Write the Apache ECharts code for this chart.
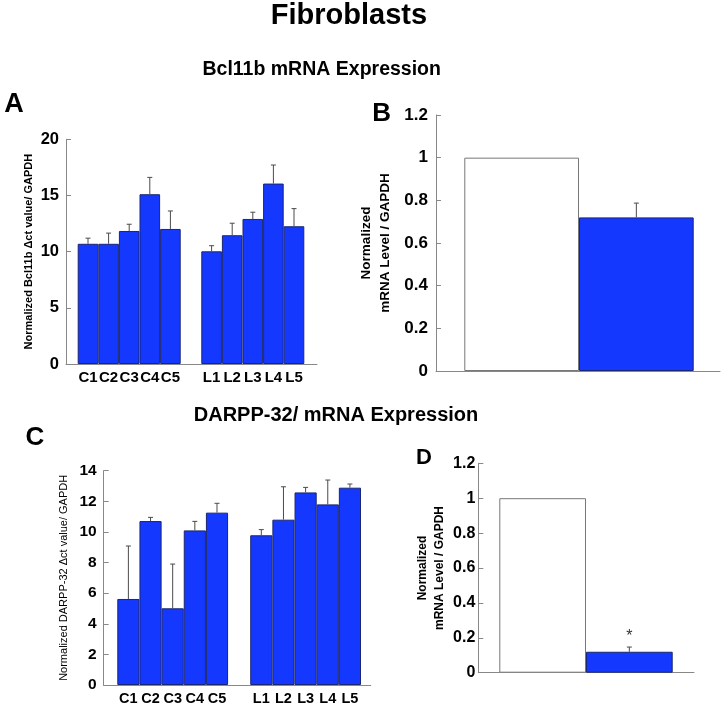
<!DOCTYPE html>
<html>
<head>
<meta charset="utf-8">
<script src="https://cdn.jsdelivr.net/npm/echarts@6/dist/echarts.min.js"></script>
<style>
html,body{margin:0;padding:0;background:#fff;}
#chart{width:727px;height:707px;}
</style>
</head>
<body>
<div id="chart"></div>
<script>
// ---------- data ----------
const groupCLabels = ['C1', 'C2', 'C3', 'C4', 'C5'];
const groupLLabels = ['L1', 'L2', 'L3', 'L4', 'L5'];

const bclControl    = [10.7, 10.7, 11.84, 15.11, 12.02];
const bclControlErr = [0.5, 0.95, 0.6, 1.5, 1.6];
const bclLesion     = [10.03, 11.46, 12.91, 16.06, 12.26];
const bclLesionErr  = [0.5, 1.07, 0.6, 1.65, 1.57];

const relLabels  = ['Control', 'Patient'];
const bclRel     = [1, 0.72];
const bclRelErr  = [0, 0.067];

const darppControl    = [5.62, 10.71, 5.01, 10.1, 11.26];
const darppControlErr = [3.46, 0.24, 2.89, 0.59, 0.61];
const darppLesion     = [9.78, 10.8, 12.58, 11.8, 12.89];
const darppLesionErr  = [0.37, 2.15, 0.33, 1.59, 0.24];

const darppRel    = [1, 0.12];
const darppRelErr = [0, 0.027];
const darppRelSig = ['', '*'];

// ---------- styling / helpers ----------
const FF = "'Liberation Sans', Arial, Helvetica, sans-serif";
const BLUE = '#1538ff';
const BLUE_BORDER = '#1a2670';
const AXIS = '#888888';

const groupedCats = [...groupCLabels, '', ...groupLLabels];
const aVals = [...bclControl, null, ...bclLesion];
const aErrs = [...bclControlErr, null, ...bclLesionErr];
const cVals = [...darppControl, null, ...darppLesion];
const cErrs = [...darppControlErr, null, ...darppLesionErr];

function frameX(gi) {
  return { type: 'value', gridIndex: gi, min: 0, max: 1,
    axisLine: { show: true, lineStyle: { color: AXIS, width: 1 } },
    axisTick: { show: false }, axisLabel: { show: false }, splitLine: { show: false } };
}
function barsX(gi, cats, showLabels, fontSize, margin) {
  return { type: 'category', gridIndex: gi, data: cats,
    axisLine: { show: false }, axisTick: { show: false }, splitLine: { show: false },
    axisLabel: { show: showLabels, interval: 0, fontSize: fontSize, fontWeight: 'bold',
      color: '#000', fontFamily: FF, margin: margin } };
}
function frameY(gi, max, interval, labelSize, labelMargin, name, nameSize, nameWeight, nameGap, fmt) {
  return { type: 'value', gridIndex: gi, min: 0, max: max, interval: interval,
    axisLine: { show: true, lineStyle: { color: AXIS, width: 1 } },
    axisTick: { show: true, inside: true, length: 5, lineStyle: { color: AXIS } },
    splitLine: { show: false },
    axisLabel: { fontSize: labelSize, fontWeight: 'bold', color: '#000', fontFamily: FF,
      margin: labelMargin, formatter: fmt },
    name: name, nameLocation: 'middle', nameGap: nameGap,
    nameTextStyle: { fontSize: nameSize, fontWeight: nameWeight, color: '#000', fontFamily: FF,
      lineHeight: Math.round(nameSize * 1.4) } };
}
function barsY(gi, max) {
  return { type: 'value', gridIndex: gi, min: 0, max: max, show: false };
}
function blueBars(idx, vals) {
  return { type: 'bar', xAxisIndex: idx, yAxisIndex: idx, data: vals,
    barCategoryGap: '0%', barGap: '0%',
    itemStyle: { color: BLUE, borderColor: BLUE_BORDER, borderWidth: 1 } };
}
function pairBars(idx, vals, sig) {
  const s = { type: 'bar', xAxisIndex: idx, yAxisIndex: idx, barCategoryGap: '0%',
    data: vals.map((v, i) => ({ value: v,
      itemStyle: i === 0 ? { color: '#fff', borderColor: '#777', borderWidth: 1 }
                         : { color: BLUE, borderColor: BLUE_BORDER, borderWidth: 1 } })) };
  if (sig) {
    s.label = { show: true, position: 'top', distance: 7, formatter: p => sig[p.dataIndex],
      fontSize: 16, color: '#333', fontFamily: FF };
  }
  return s;
}
function errSeries(idx, vals, errs) {
  const data = [];
  vals.forEach((v, i) => { if (v != null && errs[i]) data.push([i, v, errs[i]]); });
  return { type: 'custom', xAxisIndex: idx, yAxisIndex: idx, data: data, z: 5,
    encode: { x: 0, y: 1 },
    renderItem: function (params, api) {
      const i = api.value(0), v = api.value(1), e = api.value(2);
      const p0 = api.coord([i, v]);
      const p1 = api.coord([i, v + e]);
      const cap = 2.5;
      const st = { stroke: '#4a4a4a', lineWidth: 1 };
      return { type: 'group', children: [
        { type: 'line', shape: { x1: p0[0], y1: p0[1], x2: p1[0], y2: p1[1] }, style: st },
        { type: 'line', shape: { x1: p1[0] - cap, y1: p1[1], x2: p1[0] + cap, y2: p1[1] }, style: st }
      ] };
    } };
}
const fmt1 = v => String(+v.toFixed(1));
const fmt0 = v => String(v);

function txt(x, y, text, size) {
  return { type: 'text', x: x, y: y, silent: true,
    style: { text: text, fontSize: size, fontWeight: 'bold', fontFamily: FF, fill: '#000',
      align: 'center', verticalAlign: 'middle' } };
}

const option = {
  animation: false,
  backgroundColor: '#fff',
  textStyle: { fontFamily: FF },
  grid: [
    { left: 66,    top: 139.3, width: 251,   height: 224.7 },  // A frame
    { left: 77.7,  top: 139.3, width: 226.6, height: 224.7 },  // A bars
    { left: 436,   top: 115,   width: 284,   height: 256 },    // B frame
    { left: 464.3, top: 115,   width: 229.4, height: 256 },    // B bars
    { left: 103.7, top: 470.7, width: 267,   height: 214.3 },  // C frame
    { left: 117.3, top: 470.7, width: 243.7, height: 214.3 },  // C bars
    { left: 478.3, top: 463.3, width: 215.7, height: 209.4 },  // D frame
    { left: 499.3, top: 463.3, width: 173.4, height: 209.4 }   // D bars
  ],
  xAxis: [
    frameX(0), barsX(1, groupedCats, true, 15, 6),
    frameX(2), barsX(3, relLabels, false, 12, 6),
    frameX(4), barsX(5, groupedCats, true, 14.5, 6),
    frameX(6), barsX(7, relLabels, false, 12, 6)
  ],
  yAxis: [
    frameY(0, 20, 5, 16.5, 7, 'Normalized Bcl11b \u0394ct value/ GAPDH', 11, 'bold', 29, fmt0),
    barsY(1, 20),
    frameY(2, 1.2, 0.2, 17, 8, 'Normalized\nmRNA Level / GAPDH', 13.5, 'bold', 41, fmt1),
    barsY(3, 1.2),
    frameY(4, 14, 2, 15.5, 7, 'Normalized DARPP-32 \u0394ct value/ GAPDH', 11, 'normal', 32, fmt0),
    barsY(5, 14),
    frameY(6, 1.2, 0.2, 16, 3, 'Normalized\nmRNA Level / GAPDH', 12, 'bold', 30, fmt1),
    barsY(7, 1.2)
  ],
  series: [
    blueBars(1, aVals), errSeries(1, aVals, aErrs),
    pairBars(3, bclRel), errSeries(3, bclRel, bclRelErr),
    blueBars(5, cVals), errSeries(5, cVals, cErrs),
    pairBars(7, darppRel, darppRelSig), errSeries(7, darppRel, darppRelErr)
  ],
  graphic: [
    txt(349, 16, 'Fibroblasts', 29),
    txt(321.7, 70, 'Bcl11b mRNA Expression', 19.5),
    txt(336, 415, 'DARPP-32/ mRNA Expression', 20),
    txt(14, 105, 'A', 27),
    txt(381.7, 114, 'B', 26),
    txt(35, 438, 'C', 26),
    txt(424, 457.5, 'D', 22)
  ]
};

const chart = echarts.init(document.getElementById('chart'), null, { renderer: 'canvas' });
chart.setOption(option);
</script>
</body>
</html>
